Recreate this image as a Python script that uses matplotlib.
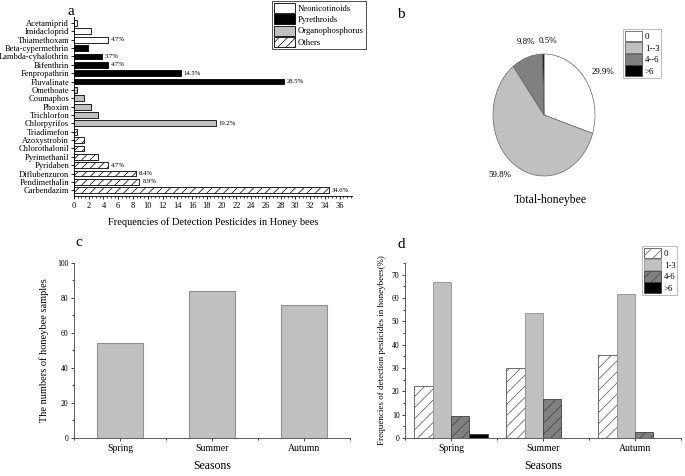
import numpy as np
import matplotlib
matplotlib.use("Agg")
import matplotlib.pyplot as plt
from matplotlib.patches import Patch
from matplotlib.ticker import MultipleLocator

plt.rcParams['font.family'] = ['Liberation Serif', 'DejaVu Serif']
plt.rcParams['hatch.linewidth'] = 0.5

# panel a: detection frequency (%) per pesticide, top to bottom
pesticides = ['Acetamiprid', 'Imidacloprid', 'Thiamethoxam', 'Beta-cypermethrin',
              'Lambda-cyhalothrin', 'Bifenthrin', 'Fenpropathrin', 'Fluvalinate',
              'Omethoate', 'Coumaphos', 'Phoxim', 'Trichlorfon', 'Chlorpyrifos',
              'Triadimefon', 'Azoxystrobin', 'Chlorothalonil', 'Pyrimethanil',
              'Pyridaben', 'Diflubenzuron', 'Pendimethalin', 'Carbendazim']
freq = [0.47, 2.34, 4.67, 1.87, 3.74, 4.67, 14.5, 28.5,
        0.47, 1.40, 2.34, 3.27, 19.2,
        0.47, 1.40, 1.40, 3.27, 4.67, 8.41, 8.88, 34.6]
group = ['Neo'] * 3 + ['Pyr'] * 5 + ['Org'] * 5 + ['Oth'] * 8
pct_labels = ['', '', '4.7%', '', '3.7%', '4.7%', '14.5%', '28.5%',
              '', '', '', '', '19.2%',
              '', '', '', '', '4.7%', '8.4%', '8.9%', '34.6%']

# panel b: number of pesticides per sample
pie_cats = ['0', '1--3', '4--6', '>6']
pie_vals = [29.9, 59.8, 9.8, 0.5]

# panel c: samples per season
seasons = ['Spring', 'Summer', 'Autumn']
samples = [54, 84, 76]

# panel d: frequency (%) by number of pesticides per season
d_cats = ['0', '1-3', '4-6', '>6']
d_vals = [[22.2, 29.8, 35.5],
          [66.7, 53.6, 61.8],
          [9.3, 16.7, 2.6],
          [1.85, 0.0, 0.0]]

styles = {'Neo': dict(color='white', hatch=None),
          'Pyr': dict(color='black', hatch=None),
          'Org': dict(color='#c0c0c0', hatch=None),
          'Oth': dict(color='white', hatch='////')}
names = {'Neo': 'Neonicotinoids', 'Pyr': 'Pyrethroids',
         'Org': 'Organophosphorus', 'Oth': 'Others'}

fig = plt.figure(figsize=(6.85, 4.76), dpi=100)

# ---- a
ax = fig.add_axes([0.108, 0.588, 0.406, 0.376])
y = np.arange(len(pesticides))
bars = ax.barh(y, freq, height=0.7,
               color=[styles[g]['color'] for g in group],
               edgecolor='black', linewidth=0.6)
for b, g in zip(bars, group):
    if styles[g]['hatch']:
        b.set_hatch(styles[g]['hatch'])
ax.bar_label(bars, labels=pct_labels, padding=2, fontsize=4.8)
ax.set_ylim(len(pesticides) - 0.3, -0.7)
ax.set_xlim(0, 37.7)
ax.set_yticks(y)
ax.set_yticklabels(pesticides, fontsize=6.1)
ax.xaxis.set_major_locator(MultipleLocator(2))
ax.xaxis.set_minor_locator(MultipleLocator(0.5))
ax.tick_params(axis='x', labelsize=6, length=2.5, width=0.6, pad=2)
ax.tick_params(axis='x', which='minor', length=1.5, width=0.5)
ax.tick_params(axis='y', length=2.5, width=0.6, pad=1)
for s in ['top', 'right']:
    ax.spines[s].set_visible(False)
for s in ['left', 'bottom']:
    ax.spines[s].set_linewidth(0.6)
ax.set_xlabel('Frequencies of Detection Pesticides in Honey bees', fontsize=7.5, labelpad=5)
handles = [Patch(facecolor=styles[k]['color'], hatch=styles[k]['hatch'],
                 edgecolor='black', linewidth=0.6, label=names[k]) for k in styles]
leg = fig.legend(handles=handles, loc='upper left', bbox_to_anchor=(271 / 685, 1.0),
                 fontsize=6.2, frameon=True, fancybox=False, edgecolor='black',
                 handlelength=2.4, handleheight=1.45, borderpad=0.25,
                 labelspacing=0.12, handletextpad=0.35, borderaxespad=0.1)
leg.get_frame().set_linewidth(0.6)
fig.text(0.099, 0.975, 'a', fontsize=11, ha='left', va='center')

# ---- b
axb = fig.add_axes([(544 - 51) / 685, 1 - (115 + 61) / 476, 102 / 685, 122 / 476])
pie_colors = ['white', '#c0c0c0', '#808080', 'black']
wedges, texts, autotexts = axb.pie(pie_vals, colors=pie_colors, startangle=90,
                                   counterclock=False, autopct='%.1f%%',
                                   pctdistance=1.3,
                                   wedgeprops=dict(edgecolor='#666666', linewidth=0.5),
                                   textprops=dict(fontsize=6.5))
axb.set_aspect('auto')
axb.set_xlim(-1, 1)
axb.set_ylim(-1, 1)
autotexts[0].set_position((1.15, 0.7))
autotexts[1].set_position((-0.86, -0.98))
autotexts[2].set_position((-0.35, 1.2))
autotexts[3].set_position((0.07, 1.22))
fig.text(550 / 685, 1 - 200 / 476, 'Total-honeybee', fontsize=8.5, ha='center', va='center')
legb = fig.legend(handles=[Patch(facecolor=c, edgecolor='#444444', linewidth=0.5, label=l)
                           for c, l in zip(pie_colors, pie_cats)],
                  loc='upper left', bbox_to_anchor=(623 / 685, 1 - 29 / 476),
                  fontsize=6.3, frameon=True, fancybox=False, edgecolor='#888888',
                  handlelength=2.0, handleheight=1.5, borderpad=0.2,
                  labelspacing=0.1, handletextpad=0.3, borderaxespad=0)
legb.get_frame().set_linewidth(0.5)
fig.text(397 / 685, 1 - 14 / 476, 'b', fontsize=11, ha='left', va='center')

# ---- c
axc = fig.add_axes([0.108, 0.0798, 0.403, 0.368])
xc = np.arange(len(seasons))
axc.bar(xc, samples, width=0.5, color='#c0c0c0', edgecolor='#909090', linewidth=0.8)
axc.set_xlim(-0.5, 2.5)
axc.set_ylim(0, 100)
axc.set_xticks(xc)
axc.set_xticklabels(seasons, fontsize=7)
axc.xaxis.set_minor_locator(MultipleLocator(0.5))
axc.yaxis.set_major_locator(MultipleLocator(20))
axc.yaxis.set_minor_locator(MultipleLocator(10))
axc.tick_params(axis='y', labelsize=5.5, length=2.5, width=0.5, pad=1.5)
axc.tick_params(axis='x', length=2.5, width=0.5, pad=2)
axc.tick_params(which='minor', length=1.5, width=0.5)
for s in ['top', 'right']:
    axc.spines[s].set_visible(False)
for s in ['left', 'bottom']:
    axc.spines[s].set_linewidth(0.6)
    axc.spines[s].set_color('#444444')
axc.set_ylabel('The numbers of honeybee samples', fontsize=7.5, labelpad=6)
axc.set_xlabel('Seasons', fontsize=8.5, labelpad=5)
fig.text(75 / 685, 1 - 243 / 476, 'c', fontsize=11, ha='left', va='center')

# ---- d
axd = fig.add_axes([405 / 685, 0.0798, 276 / 685, 0.368])
xd = np.arange(len(seasons))
d_colors = ['white', '#c0c0c0', '#808080', 'black']
d_hatch = ['///', None, '///', None]
d_edges = ['#555555', '#909090', '#404040', '#404040']
w = 0.2
for i, (cat, vals) in enumerate(zip(d_cats, d_vals)):
    axd.bar(xd + (i - 1.5) * w, vals, width=w, color=d_colors[i], hatch=d_hatch[i],
            edgecolor=d_edges[i], linewidth=0.6, label=cat)
axd.set_xlim(-0.5, 2.5)
axd.set_ylim(0, 75)
axd.set_xticks(xd)
axd.set_xticklabels(seasons, fontsize=7)
axd.xaxis.set_minor_locator(MultipleLocator(0.5))
axd.yaxis.set_major_locator(MultipleLocator(10))
axd.yaxis.set_minor_locator(MultipleLocator(5))
axd.tick_params(axis='y', labelsize=5.5, length=2.5, width=0.5, pad=1.5)
axd.tick_params(axis='x', length=2.5, width=0.5, pad=2)
axd.tick_params(which='minor', length=1.5, width=0.5)
for s in ['top', 'right']:
    axd.spines[s].set_visible(False)
for s in ['left', 'bottom']:
    axd.spines[s].set_linewidth(0.6)
    axd.spines[s].set_color('#444444')
axd.set_ylabel('Frequencies of detection pesticides in honeybees(%)', fontsize=6.5, labelpad=4)
axd.set_xlabel('Seasons', fontsize=8.5, labelpad=5)
legd = axd.legend(loc='upper left', bbox_to_anchor=(642 / 685, 1 - 246 / 476),
                  bbox_transform=fig.transFigure,
                  fontsize=6.3, frameon=True, fancybox=False, edgecolor='#888888',
                  handlelength=2.0, handleheight=1.5, borderpad=0.2,
                  labelspacing=0.1, handletextpad=0.3, borderaxespad=0)
legd.get_frame().set_linewidth(0.5)
fig.text(398 / 685, 1 - 245 / 476, 'd', fontsize=11, ha='left', va='center')

fig.savefig('out.png', dpi=100)
